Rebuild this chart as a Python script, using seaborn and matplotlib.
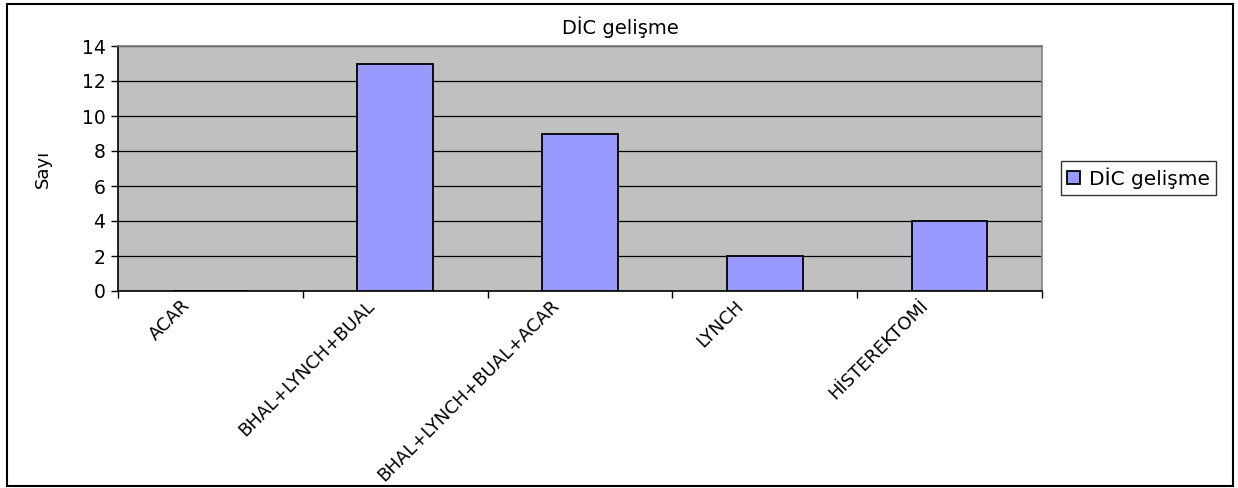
import matplotlib
matplotlib.use("Agg")
import matplotlib.pyplot as plt
from matplotlib.patches import Rectangle
from matplotlib.transforms import ScaledTranslation
import seaborn as sns

categories = ["ACAR", "BHAL+LYNCH+BUAL", "BHAL+LYNCH+BUAL+ACAR", "LYNCH", "HİSTEREKTOMİ"]
values = [0, 13, 9, 2, 4]
series_name = "DİC gelişme"
y_ticks = [0, 2, 4, 6, 8, 10, 12, 14]

sns.set_style("white")
plt.rcParams["font.family"] = ["DejaVu Sans"]
plt.rcParams["text.color"] = "black"
plt.rcParams["xtick.color"] = "black"
plt.rcParams["ytick.color"] = "black"
plt.rcParams["axes.labelcolor"] = "black"

W, H = 1238, 488
fig = plt.figure(figsize=(W / 100, H / 100), dpi=100)
ax = fig.add_axes([118 / W, 1 - 291 / H, (1042 - 118) / W, (291 - 46) / H])
ax.set_facecolor("#C0C0C0")

sns.barplot(x=categories, y=values, color="#9999FF", edgecolor="black",
            linewidth=1.3, width=0.41, saturation=1, ax=ax, label=series_name,
            zorder=3)

ax.set_xlim(-0.5, len(categories) - 0.5)
ax.set_ylim(0, 14)
ax.set_yticks(y_ticks)
ax.yaxis.grid(True, color="black", linewidth=0.9, zorder=1)
ax.set_axisbelow(True)

# category boundaries carry the tick marks
ax.set_xticks([i - 0.5 for i in range(len(categories) + 1)], minor=True)
ax.tick_params(axis="x", which="major", length=0, pad=4)
ax.tick_params(axis="x", which="minor", length=5, width=1, color="black", direction="out", bottom=True)
ax.tick_params(axis="y", length=5, width=1, color="black", direction="out", left=True, labelsize=13.5, pad=4)
ax.set_xticks(range(len(categories)))
ax.set_xticklabels(categories, rotation=45, ha="right", rotation_mode="anchor", fontsize=13)
shift = ScaledTranslation(-0.30, 0, fig.dpi_scale_trans)
for lbl in ax.get_xticklabels():
    lbl.set_transform(lbl.get_transform() + shift)

for side in ("left", "bottom"):
    ax.spines[side].set_color("black")
    ax.spines[side].set_linewidth(1.2)
for side in ("top", "right"):
    ax.spines[side].set_color("#808080")
    ax.spines[side].set_linewidth(1.2)

ax.set_xlabel("")
ax.set_ylabel("Sayı", fontsize=13)
ax.yaxis.set_label_coords((52 - 118) / 924, 0.5)
fig.text(620 / W, 1 - 27 / H, series_name, ha="center", va="center", fontsize=14)

leg = ax.legend(loc="center left", bbox_to_anchor=(1061 / W, 1 - 178 / H),
                bbox_transform=fig.transFigure, fontsize=14.5, frameon=True,
                fancybox=False, handlelength=0.65, handleheight=0.65,
                handletextpad=0.45, borderpad=0.3, borderaxespad=0)
leg.get_frame().set_edgecolor("black")
leg.get_frame().set_linewidth(1)

fig.patches.append(Rectangle((7 / W, 2 / H), (1233 - 7) / W, (486 - 4) / H,
                             transform=fig.transFigure, fill=False,
                             edgecolor="black", linewidth=1.5))

fig.savefig("out.png", dpi=100, facecolor="white")
